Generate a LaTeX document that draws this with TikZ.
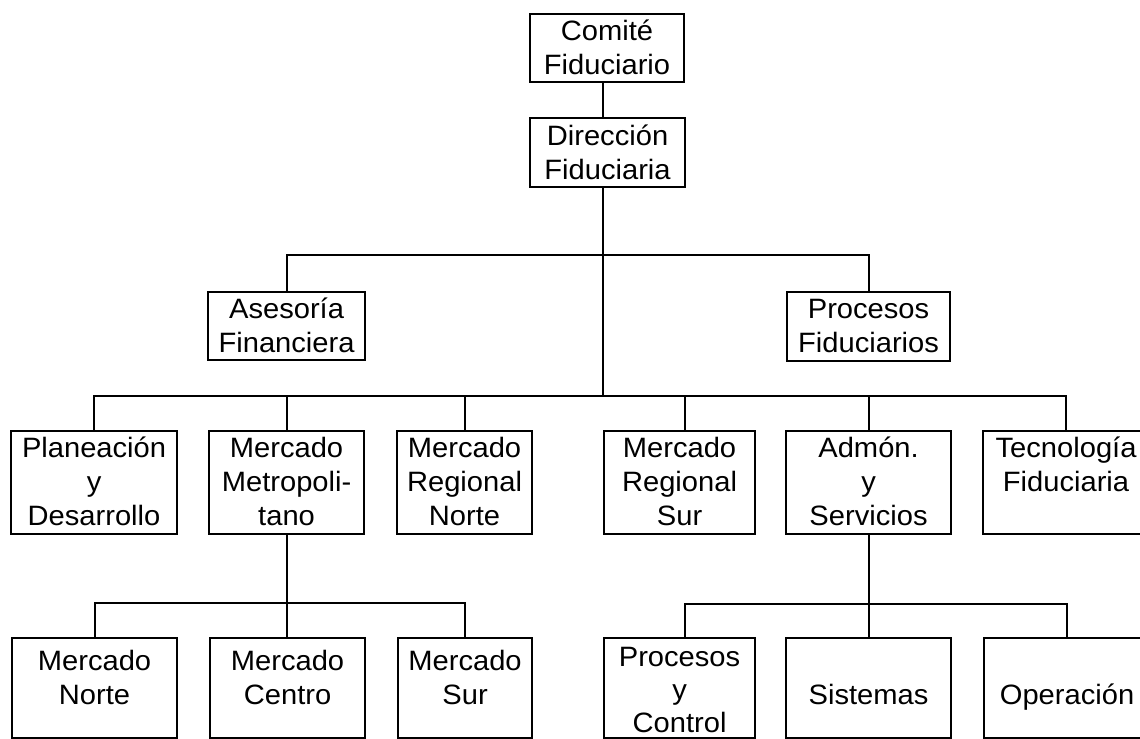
\documentclass[tikz,border=0pt]{standalone}
\usepackage{fontspec}
\newfontfamily\chartfont[FakeStretch=1.04]{Liberation Sans}
\begin{document}
\begin{tikzpicture}[x=1bp,y=-1bp,
  box/.style={draw, line width=2.1bp, inner sep=0pt, align=center, anchor=north west,
    font={\chartfont\fontsize{28bp}{34bp}\selectfont}},
  wire/.style={line width=2.1bp}]
\useasboundingbox (0,0) rectangle (1140,739);
\clip (0,0) rectangle (1140,739);

% top of the chart (text height reaches the last line's baseline)
\node[box, minimum width=154bp, minimum height=68bp, text height=60bp, text depth=8bp]
  (comite) at (529,13) {Comité\\Fiduciario};
\node[box, minimum width=155bp, minimum height=69bp, text height=61bp, text depth=8bp]
  (direc) at (529,117) {Dirección\\Fiduciaria};

% staff units
\node[box, minimum width=157bp, minimum height=68bp, text height=60bp, text depth=8bp]
  (asesor) at (207,291) {Asesoría\\Financiera};
\node[box, minimum width=163bp, minimum height=69bp, text height=60bp, text depth=9bp]
  (procf) at (786,291) {Procesos\\Fiduciarios};

% line units
\tikzset{rowthree/.style={box, minimum height=103bp, text height=94bp, text depth=9bp}}
\node[rowthree, minimum width=166bp] (plan)  at (10,430)  {Planeación\\y\\Desarrollo};
\node[rowthree, minimum width=155bp] (metro) at (208,430) {Mercado\\Metropoli-\\tano};
\node[rowthree, minimum width=135bp] (rnorte) at (396,430) {Mercado\\Regional\\Norte};
\node[rowthree, minimum width=151bp] (rsur)  at (603,430) {Mercado\\Regional\\Sur};
\node[rowthree, minimum width=165bp] (admon) at (785,430) {Admón.\\y\\Servicios};
\node[rowthree, minimum width=166bp, text height=60bp, text depth=43bp]
  (tec) at (982,430) {Tecnología\\Fiduciaria};

% bottom level
\tikzset{rowfour/.style={box, minimum height=100bp, text height=66bp, text depth=34bp}}
\node[rowfour, minimum width=165bp] (mnorte)  at (11,637)  {Mercado\\Norte};
\node[rowfour, minimum width=155bp] (mcentro) at (209,637) {Mercado\\Centro};
\node[rowfour, minimum width=134bp] (msur)    at (397,637) {Mercado\\Sur};
\node[rowfour, minimum width=151bp, text height=94bp, text depth=6bp,
  font={\chartfont\fontsize{28bp}{33bp}\selectfont}]
  (pctrl) at (603,637) {Procesos\\y\\Control};
\node[rowfour, minimum width=165bp] (sist) at (785,637) {Sistemas};
\node[rowfour, minimum width=166bp] (oper) at (983,637) {Operación};

% bus points
\coordinate (b2) at (603,255);
\coordinate (b3) at (603,396);
\coordinate (b4l) at (287,603);
\coordinate (b4r) at (868,604);

% connectors
\draw[wire] (comite.south -| b3) -- (direc.north -| b3);
\draw[wire] (direc.south -| b3) -- (b3);
\draw[wire] (asesor.north) |- (b2) -| (procf.north);
\draw[wire] (plan.north) |- (b3) -| (tec.north);
\draw[wire] (metro.north) -- (metro.north |- b3);
\draw[wire] (rnorte.north) -- (rnorte.north |- b3);
\draw[wire] ([xshift=5bp]rsur.north) -- ([xshift=5bp]rsur.north |- b3);
\draw[wire] (admon.north) -- (admon.north |- b3);
\draw[wire] (metro.south -| b4l) -- (mcentro.north -| b4l);
\draw[wire] (mnorte.north) |- (b4l) -| (msur.north);
\draw[wire] (admon.south) -- (sist.north);
\draw[wire] ([xshift=5bp]pctrl.north) |- (b4r) -| (oper.north);
\end{tikzpicture}
\end{document}
